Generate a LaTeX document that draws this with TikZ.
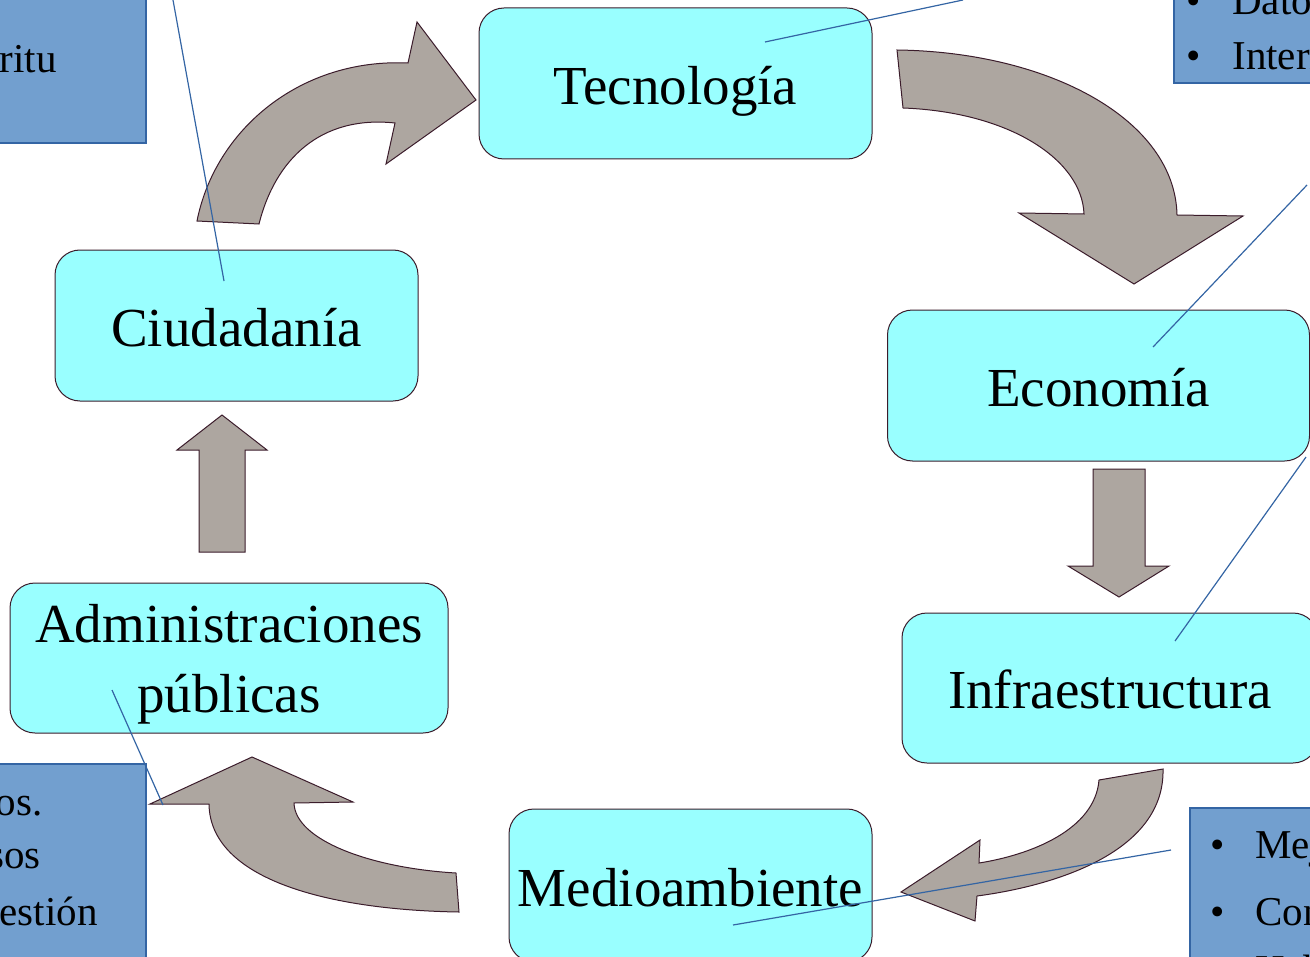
\documentclass[tikz,border=0pt]{standalone}
\usepackage{fontspec}
\setmainfont{Liberation Serif}
\usepackage{tikz}
\definecolor{cyanbox}{HTML}{99FFFF}
\definecolor{boxline}{HTML}{3B1C2B}
\definecolor{arrowgray}{HTML}{ADA6A0}
\definecolor{notefill}{HTML}{729FCF}
\definecolor{noteline}{HTML}{3465A4}

\begin{document}
\begin{tikzpicture}[x=0.5pt,y=-0.5pt]
\tikzstyle{cell}=[rectangle, rounded corners=12.5pt, draw=boxline, fill=cyanbox, line width=0.5pt, inner sep=0pt, align=center, font=\fontsize{27.5}{35}\selectfont]
\tikzstyle{main}=[cell, text height=26.5pt, text depth=5.9pt]
\tikzstyle{note}=[rectangle, draw=noteline, fill=notefill, line width=0.6pt, inner sep=0pt]
\tikzstyle{notetext}=[inner sep=0pt, font=\fontsize{20.5}{27}\selectfont]
\tikzstyle{flow}=[draw=boxline, fill=arrowgray, line width=0.5pt, line join=miter]
\tikzstyle{callout}=[draw=noteline, line width=0.6pt]
\useasboundingbox (0,0) rectangle (1310,957);
\clip (0,0) rectangle (1310,957);
  % blue notes
  \node[note, minimum width=83pt, minimum height=81.5pt] (n1) at (63,61.5) {};
  \node[note, minimum width=78pt, minimum height=51.5pt] (n2) at (1252,31.5) {};
  \node[note, minimum width=83pt, minimum height=106.5pt] (n3) at (63,870.5) {};
  \node[note, minimum width=70pt, minimum height=84.5pt] (n4) at (1260,892.5) {};
  \node[notetext, anchor=base east] (n1a) at (57,73) {Espíritu};
  \node[notetext, anchor=base west] (n2a) at (1186,15) {\makebox[23pt][l]{•}Datos};
  \node[notetext, anchor=base west] (n2b) at (1186,70) {\makebox[23pt][l]{•}Internet};
  \node[notetext, anchor=base east] (n3a) at (43,815) {ciudadanos.};
  \node[notetext, anchor=base east] (n3b) at (41,868) {recursos};
  \node[notetext, anchor=base east] (n3c) at (98,925) {gestión};
  \node[notetext, anchor=base west] (n4a) at (1210,858) {\makebox[22.5pt][l]{•}Mejora};
  \node[notetext, anchor=base west] (n4b) at (1210,925) {\makebox[22.5pt][l]{•}Control};
  \node[notetext, anchor=base west] (n4c) at (1255,983) {Habitabilidad};
  % cyan boxes
  \node[main, minimum width=196.5pt, minimum height=75.5pt] (tec) at (675.5,83.5) {Tecnología};
  \node[main, minimum width=211pt, minimum height=75.5pt] (eco) at (1098.5,385.5) {Economía};
  \node[main, minimum width=208pt, minimum height=75pt] (inf) at (1110,688) {Infraestructura};
  \node[main, minimum width=181.5pt, minimum height=76.5pt] (med) at (690.5,885.5) {Medioambiente};
  \node[cell, minimum width=219pt, minimum height=75pt] (adm) at (229,658) {\rule{0pt}{25pt}Administraciones\\públicas};
  \node[main, minimum width=181.5pt, minimum height=75.5pt] (ciu) at (236.5,325.5) {Ciudadanía};
  % block arrows
  \draw[flow] (199,552) -- (199,450) -- (177,450) -- (222,415) -- (267,450) -- (245,450) -- (245,552) -- cycle;
  \draw[flow] (1093,469) -- (1145,469) -- (1145,566) -- (1169,566) -- (1119,597) -- (1068,566) -- (1093,566) -- cycle;
  \draw[flow] (197,221) .. controls (215,130) and (300,58) .. (408,63) -- (417,22) -- (476,100) -- (386,164) -- (395,123) .. controls (320,115) and (275,160) .. (259,224) -- cycle;
  \draw[flow] (897,50) .. controls (1050,52) and (1175,120) .. (1177,215) -- (1243,216) -- (1134,284) -- (1019,213) -- (1084,214) .. controls (1082,160) and (1010,112) .. (903,108) -- cycle;
  \draw[flow] (1163,769) .. controls (1165,850) and (1060,885) .. (977,896) -- (975,921) -- (901,892) -- (980,840) -- (979,863) .. controls (1030,855) and (1095,830) .. (1099,780) -- cycle;
  \draw[flow] (459,912) .. controls (330,910) and (210,880) .. (209,804) -- (150,804) -- (252,757) -- (353,802) -- (294,803) .. controls (295,840) and (370,868) .. (456,873) -- cycle;
  % callout lines
  \coordinate (c1a) at (173,0);
  \coordinate (c1b) at (224,281);
  \coordinate (c2a) at (765,42);
  \coordinate (c2b) at (963,0);
  \coordinate (c3a) at (1153,347);
  \coordinate (c3b) at (1307,185);
  \coordinate (c4a) at (1175,641);
  \coordinate (c4b) at (1306,457);
  \coordinate (c5a) at (733,925);
  \coordinate (c5b) at (1171,850);
  \coordinate (c6a) at (112,690);
  \coordinate (c6b) at (163,805);
\path (c1a) edge[callout] (c1b)
      (c2a) edge[callout] (c2b)
      (c3a) edge[callout] (c3b)
      (c4a) edge[callout] (c4b)
      (c5a) edge[callout] (c5b)
      (c6a) edge[callout] (c6b)
      ;
\end{tikzpicture}
\end{document}
